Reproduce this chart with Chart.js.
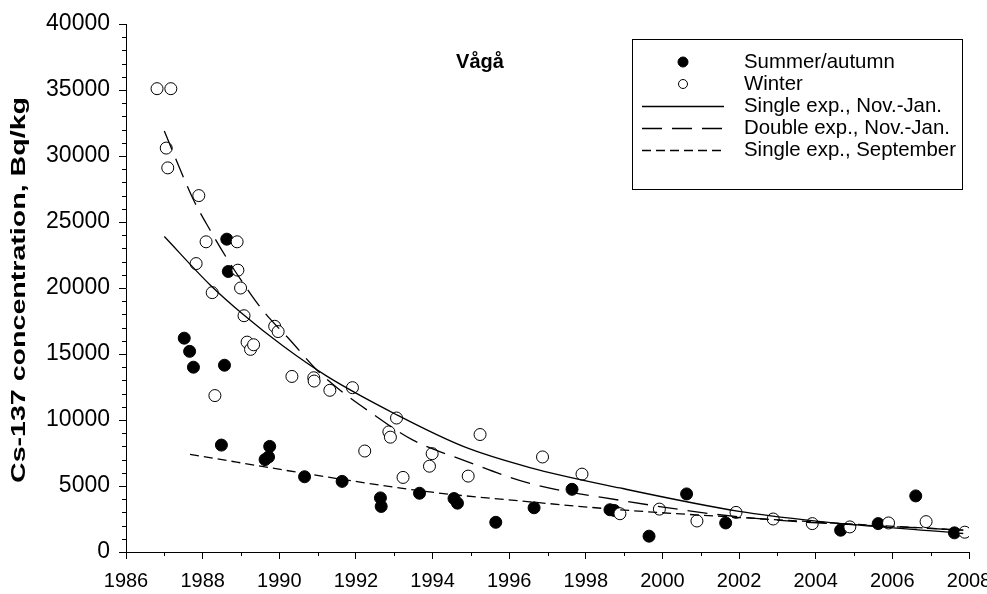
<!DOCTYPE html>
<html>
<head>
<meta charset="utf-8">
<script src="https://cdn.jsdelivr.net/npm/chart.js@4.4.1/dist/chart.umd.min.js"></script>
<style>
  html, body { margin: 0; padding: 0; background: #fff; }
  #wrap { width: 987px; height: 594px; position: relative; }
</style>
</head>
<body>
<div id="wrap"><canvas id="c" width="987" height="594"></canvas></div>
<script>
// ---- Data ----
const summerYears  = [1987.52, 1987.66, 1987.76, 1988.49, 1988.57, 1988.63, 1988.67, 1989.63, 1989.72, 1989.75,
                      1990.66, 1991.64, 1992.64, 1992.66, 1993.66, 1994.56, 1994.65, 1995.65, 1996.65, 1997.64,
                      1998.63, 1998.74, 1999.65, 2000.63, 2001.65, 2004.65, 2005.63, 2006.61, 2007.62];
const summerValues = [16200, 15200, 14000, 8100, 14150, 23700, 21250, 7000, 7200, 8000,
                      5700, 5350, 4100, 3450, 4450, 4050, 3700, 2250, 3350, 4750,
                      3200, 3150, 1200, 4400, 2200, 1650, 2150, 4250, 1450];

const winterYears  = [1986.81, 1987.17, 1987.05, 1987.09, 1987.83, 1987.90, 1988.09, 1988.25, 1988.32, 1988.90,
                      1988.92, 1988.99, 1989.08, 1989.16, 1989.25, 1989.33, 1989.88, 1989.97, 1990.33, 1990.90,
                      1990.91, 1991.32, 1991.91, 1992.23, 1992.86, 1992.90, 1993.06, 1993.23, 1993.92, 1993.99,
                      1994.93, 1995.24, 1996.87, 1997.90, 1998.89, 1999.92, 2000.90, 2001.92, 2002.89, 2003.91,
                      2004.89, 2005.90, 2006.88, 2007.89];
const winterValues = [35100, 35100, 30600, 29100, 21850, 27000, 23500, 19650, 11850, 23500,
                      21350, 20000, 17900, 15900, 15350, 15700, 17100, 16700, 13300, 13200,
                      12950, 12250, 12450, 7650, 9100, 8700, 10150, 5650, 6500, 7450,
                      5750, 8900, 7200, 5900, 2900, 3250, 2350, 3000, 2500, 2150,
                      1900, 2200, 2300, 1500];

const singleNovJanYears  = [1987.0, 1988.19, 1989.06, 1990.10, 1991.24, 1993.06, 1994.80, 1996.54, 1998.89, 2002.0, 2003.9, 2007.85];
const singleNovJanValues = [23900, 20250, 17990, 15600, 13320, 10400, 8000, 6400, 4850, 3080, 2380, 1400];

const doubleNovJanYears  = [1987.0, 1987.49, 1987.76, 1988.19, 1988.63, 1989.24, 1989.63, 1990.28, 1990.98, 1991.58, 1992.36, 1993.49, 1994.80, 1996.54, 1998.89, 2002.02, 2007.85];
const doubleNovJanValues = [31900, 28450, 26680, 24410, 22260, 19600, 18090, 16060, 13790, 12270, 10620, 8475, 6960, 5190, 3920, 2655, 1650];

const singleSeptYears  = [1987.67, 1991.32, 1993.93, 1996.54, 1998.89, 2002.02, 2007.85];
const singleSeptValues = [7400, 5650, 4550, 3800, 3200, 2610, 1650];

const xTickMin = 1986, xTickMax = 2008, xTickStep = 2;
const yTickMin = 0, yTickMax = 40000, yTickStep = 5000;

const seriesLabels = ['Summer/autumn', 'Winter', 'Single exp., Nov.-Jan.', 'Double exp., Nov.-Jan.', 'Single exp., September'];
const chartTitle = 'Vågå';
const yAxisTitle = 'Cs-137 concentration, Bq/kg';

// ---- helpers ----
const pts = (xs, ys) => xs.map((x, i) => ({x: x, y: ys[i]}));
const FONT = '"Liberation Sans", Arial, Helvetica, sans-serif';

const datasets = [
  { label: seriesLabels[0], type: 'scatter', data: pts(summerYears, summerValues),
    backgroundColor: '#000', borderColor: '#000', borderWidth: 1, pointRadius: 6, order: 3 },
  { label: seriesLabels[1], type: 'scatter', data: pts(winterYears, winterValues),
    backgroundColor: '#fff', borderColor: '#000', borderWidth: 1, pointRadius: 6, order: 2 },
  { label: seriesLabels[2], type: 'line', data: pts(singleNovJanYears, singleNovJanValues),
    borderColor: '#000', borderWidth: 1.3, pointRadius: 0, fill: false, cubicInterpolationMode: 'monotone', order: 1 },
  { label: seriesLabels[3], type: 'line', data: pts(doubleNovJanYears, doubleNovJanValues),
    borderColor: '#000', borderWidth: 1.3, borderDash: [20, 10], pointRadius: 0, fill: false, cubicInterpolationMode: 'monotone', order: 1 },
  { label: seriesLabels[4], type: 'line', data: pts(singleSeptYears, singleSeptValues),
    borderColor: '#000', borderWidth: 1.3, borderDash: [9, 5], pointRadius: 0, fill: false, cubicInterpolationMode: 'monotone', order: 1 }
];

// minor tick marks, drawn through the library's scales
const minorTicks = {
  id: 'minorTicks',
  afterDraw(chart) {
    const {ctx} = chart; const x = chart.scales.x, y = chart.scales.y;
    ctx.save(); ctx.strokeStyle = '#000'; ctx.lineWidth = 1; ctx.beginPath();
    for (let v = xTickMin + 1; v < xTickMax; v += xTickStep) {
      const px = Math.round(x.getPixelForValue(v)) + 0.5;
      ctx.moveTo(px, x.top); ctx.lineTo(px, x.top + 4);
    }
    for (let v = yTickMin + 1000; v < yTickMax; v += 1000) {
      if (v % yTickStep === 0) continue;
      const py = Math.round(y.getPixelForValue(v)) + 0.5;
      ctx.moveTo(y.right, py); ctx.lineTo(y.right - 4, py);
    }
    ctx.stroke(); ctx.restore();
  }
};

// y-axis title (stretched along its length like the reference), in-plot title and boxed legend
const annotations = {
  id: 'annotations',
  afterDraw(chart) {
    const {ctx} = chart;
    const area = chart.chartArea;
    ctx.save();
    ctx.fillStyle = '#000';
    // y-axis title
    ctx.font = 'bold 21px ' + FONT;
    const w = ctx.measureText(yAxisTitle).width;
    const targetLen = 386;
    ctx.save();
    ctx.translate(19, (area.top + area.bottom) / 2 + 2);
    ctx.rotate(-Math.PI / 2);
    ctx.scale(targetLen / w, 1);
    ctx.textAlign = 'center'; ctx.textBaseline = 'middle';
    ctx.fillText(yAxisTitle, 0, 0);
    ctx.restore();

    // chart title
    ctx.font = 'bold 20px ' + FONT;
    ctx.textAlign = 'center'; ctx.textBaseline = 'middle';
    ctx.fillText(chartTitle, 480, 62);

    // legend box
    const bx = 632.5, by = 39.5, bw = 330, bh = 150;
    ctx.strokeStyle = '#000'; ctx.lineWidth = 1;
    ctx.strokeRect(bx, by, bw, bh);

    const rows = [62, 84, 106, 128, 150];
    const symX = 683, lineX0 = 642, lineX1 = 724, textX = 744;
    ctx.font = '20.4px ' + FONT; ctx.textAlign = 'left'; ctx.textBaseline = 'middle';
    chart.data.datasets.forEach((ds, i) => {
      const yy = rows[i];
      if (ds.type === 'scatter') {
        ctx.beginPath();
        ctx.arc(symX, yy, i === 0 ? 5 : 4.5, 0, Math.PI * 2);
        ctx.fillStyle = ds.backgroundColor; ctx.fill();
        ctx.setLineDash([]); ctx.lineWidth = 1; ctx.strokeStyle = ds.borderColor; ctx.stroke();
      } else {
        ctx.beginPath();
        ctx.setLineDash(ds.borderDash || []);
        ctx.lineWidth = ds.borderWidth; ctx.strokeStyle = ds.borderColor;
        ctx.moveTo(lineX0, yy + 0.5); ctx.lineTo(lineX1, yy + 0.5); ctx.stroke();
      }
      ctx.setLineDash([]);
      ctx.fillStyle = '#000';
      ctx.fillText(ds.label, textX, yy);
    });
    ctx.restore();
  }
};

new Chart(document.getElementById('c'), {
  type: 'scatter',
  data: { datasets: datasets },
  options: {
    responsive: false,
    animation: false,
    events: [],
    layout: { padding: { left: 0, top: 24, right: 18, bottom: 0 } },
    plugins: { legend: { display: false }, tooltip: { enabled: false }, title: { display: false } },
    scales: {
      x: {
        type: 'linear', min: xTickMin, max: xTickMax,
        ticks: { stepSize: xTickStep, color: '#000', font: { family: FONT, size: 20 }, padding: 10, maxRotation: 0,
                 callback: v => String(v) },
        grid: { display: true, drawOnChartArea: false, drawTicks: true, tickLength: 7, tickColor: '#000' },
        border: { display: true, color: '#000', width: 1 },
        afterFit: s => { s.height = 42; s.paddingLeft = 0; s.paddingRight = 0; }
      },
      y: {
        type: 'linear', min: yTickMin, max: yTickMax,
        ticks: { stepSize: yTickStep, color: '#000', font: { family: FONT, size: 23 }, padding: 9,
                 callback: v => String(v) },
        grid: { display: true, drawOnChartArea: false, drawTicks: true, tickLength: 7, tickColor: '#000' },
        border: { display: true, color: '#000', width: 1 },
        title: { display: false },
        afterFit: s => { s.width = 126; s.paddingTop = 0; s.paddingBottom = 0; }
      }
    }
  },
  plugins: [minorTicks, annotations]
});
</script>
</body>
</html>
